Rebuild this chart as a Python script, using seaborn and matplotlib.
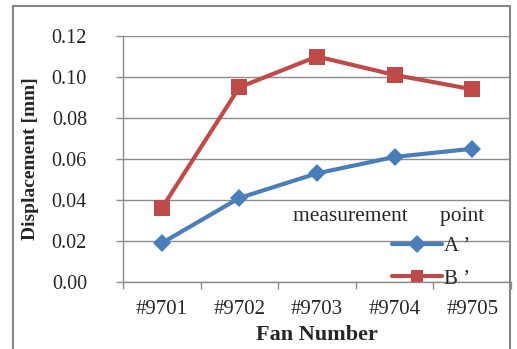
import matplotlib
matplotlib.use("Agg")
import matplotlib.pyplot as plt
import seaborn as sns
import pandas as pd
from matplotlib.patches import Rectangle

fans = ["#9701", "#9702", "#9703", "#9704", "#9705"]
point_a = [0.019, 0.041, 0.053, 0.061, 0.065]
point_b = [0.036, 0.095, 0.110, 0.101, 0.094]
series_names = ["A ’", "B ’"]
y_ticks = [0.00, 0.02, 0.04, 0.06, 0.08, 0.10, 0.12]

df = pd.DataFrame({
    "fan": fans * 2,
    "x": list(range(len(fans))) * 2,
    "value": point_a + point_b,
    "series": [series_names[0]] * len(fans) + [series_names[1]] * len(fans),
})

sns.set_style("white")
plt.rcParams["font.family"] = ["Liberation Serif", "DejaVu Serif"]

W, H = 517, 349
fig = plt.figure(figsize=(W / 100, H / 100), dpi=100)
ax = fig.add_axes([123 / W, 1 - 282 / H, (511 - 123) / W, (282 - 36) / H])

palette = {series_names[0]: "#4a7ebb", series_names[1]: "#be4b48"}
sns.lineplot(data=df, x="x", y="value", hue="series", style="series",
             markers={series_names[0]: "D", series_names[1]: "s"},
             dashes=False, palette=palette, linewidth=3,
             markersize=9, markeredgewidth=0, ax=ax, legend=True)
ax.lines[0].set_markersize(9)
ax.lines[1].set_markersize(11)

ax.set_xlim(-0.5, len(fans) - 0.5)
ax.set_ylim(0, 0.12)
ax.set_yticks(y_ticks)
ax.set_yticklabels([f"{v:.2f}" for v in y_ticks])
ax.set_xticks(range(len(fans)))
ax.set_xticklabels(fans)
ax.set_xticks([i - 0.5 for i in range(len(fans) + 1)], minor=True)

grid_c = "#8c8c8c"
ax.yaxis.grid(True, color=grid_c, linewidth=1)
ax.xaxis.grid(False)
ax.set_axisbelow(True)
for s in ["top", "right"]:
    ax.spines[s].set_visible(False)
for s in ["left", "bottom"]:
    ax.spines[s].set_color(grid_c)
    ax.spines[s].set_linewidth(1)

ax.tick_params(axis="y", which="major", length=5, color=grid_c, width=1,
               direction="out", pad=21, labelsize=14.5, left=True)
ax.tick_params(axis="x", which="major", length=0, pad=13, labelsize=15)
ax.tick_params(axis="x", which="minor", length=5, color=grid_c, width=1,
               direction="out", bottom=True)

ax.set_xlabel("Fan Number", fontsize=16, fontweight="bold")
ax.xaxis.set_label_coords(0.5, -(335 - 282) / (282 - 36), transform=ax.transAxes)
ax.xaxis.label.set_va("center")
ax.set_ylabel("Displacement [mm]", fontsize=14, fontweight="bold")
ax.yaxis.set_label_coords(-(123 - 31) / (511 - 123), 0.5)
ax.yaxis.label.set_va("center")

handles, labels = ax.get_legend_handles_labels()
leg = ax.legend(handles, labels, loc="lower left",
                bbox_to_anchor=((390 - 123) / (511 - 123), -0.035),
                frameon=False, fontsize=15, handlelength=2.4,
                handletextpad=0.1, labelspacing=0.6, borderpad=0.1,
                borderaxespad=0.0)

fig.text(293 / W, 1 - 216 / H, "measurement      point", fontsize=15.5,
         ha="left", va="center")

# outer chart frame
fig.patches.append(Rectangle((12.5 / W, -0.05), (510 - 12.5) / W, 1 - 5.5 / H + 0.05,
                             transform=fig.transFigure, fill=False,
                             edgecolor="#868686", linewidth=1.5, clip_on=False))

fig.savefig("out.png", dpi=100)
